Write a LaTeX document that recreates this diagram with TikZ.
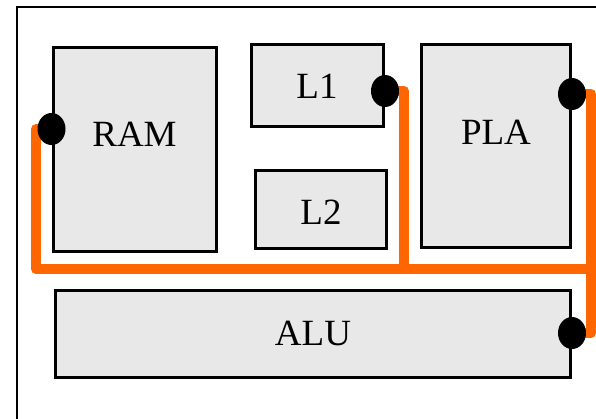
\documentclass[tikz,border=0pt]{standalone}
\usepackage{fontspec}
\setmainfont{Liberation Serif}
\usetikzlibrary{shapes.geometric}
\pgfdeclarelayer{bg}
\pgfsetlayers{bg,main}
\definecolor{busorange}{HTML}{FF6600}
\definecolor{boxgrey}{HTML}{E8E8E8}
\begin{document}
\begin{tikzpicture}[x=1pt,y=-1pt,
  unitbox/.style={draw=black, line width=3pt, fill=boxgrey, inner sep=0pt},
  unitlabel/.style={inner sep=0pt, font=\fontsize{37}{40}\selectfont},
  portdot/.style={ellipse, fill=black, inner sep=0pt, minimum width=28pt, minimum height=32pt},
  bus/.style={draw=busorange, line width=10pt, line join=round}]
\useasboundingbox (0,0) rectangle (596,418);
% outer frame
\coordinate (frameBL) at (17,430);
\coordinate (frameTL) at (17,7);
\coordinate (frameTR) at (610,7);
\draw[line width=2.5pt] (frameBL) -- (frameTL) -- (frameTR);
% units
\node[unitbox, minimum width=163pt, minimum height=204pt] (ram) at (134.5,149) {};
\node[unitbox, minimum width=132pt, minimum height=82pt] (l1) at (317.5,85.5) {};
\node[unitbox, minimum width=131pt, minimum height=78pt] (l2) at (321,209.5) {};
\node[unitbox, minimum width=149pt, minimum height=203pt] (pla) at (496,146) {};
\node[unitbox, minimum width=515pt, minimum height=87pt] (alu) at (313,334) {};
% labels
\node[unitlabel] (ramlabel) at (134.5,134) {RAM};
\node[unitlabel] (l1label) at (317,86) {L1};
\node[unitlabel] (l2label) at (321,212) {L2};
\node[unitlabel] (plalabel) at (496,132) {PLA};
\node[unitlabel] (alulabel) at (313,333) {ALU};
% ports
\node[portdot] (ramdot) at (ram.west |- 0,129) {};
\node[portdot] (l1dot) at (l1.east |- 0,91) {};
\node[portdot] (pladot) at (pla.east |- 0,94) {};
\node[portdot] (aludot) at (alu.east |- 0,333) {};
% bus corners
\coordinate (busL) at (36,269);
\coordinate (busM) at (404,269);
\coordinate (busR) at (591,269);
\coordinate (busRV) at (591,200);
\begin{pgfonlayer}{bg}
\draw[bus] (ramdot.center) -| (busL) -- (busR);
\draw[bus] (l1dot.center) -| (busM);
\draw[bus] (pladot.center) -| (busRV) |- (aludot.center);
\end{pgfonlayer}
\end{tikzpicture}
\end{document}
